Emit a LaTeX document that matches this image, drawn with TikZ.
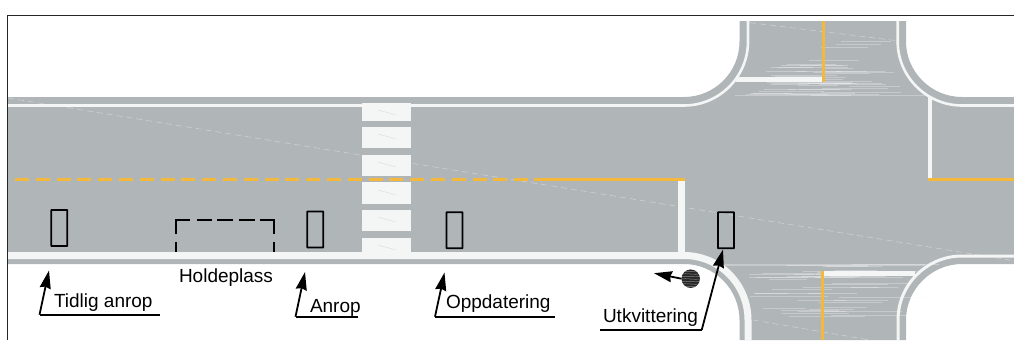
\documentclass[tikz,border=0pt]{standalone}
\usepackage{fontspec}
\setmainfont{Liberation Sans}
\usetikzlibrary{arrows.meta,calc}
\definecolor{roadgray}{HTML}{B0B5B7}
\definecolor{markwhite}{HTML}{F4F5F5}
\definecolor{markyellow}{HTML}{F3B83C}
\definecolor{inkblack}{HTML}{000000}
\tikzset{
  mark white/.style={draw=markwhite,line cap=butt},
  mark yellow/.style={draw=markyellow,line width=3pt},
  faint/.style={draw=markwhite,opacity=.42,line width=.6pt,dash pattern=on 6pt off 4pt},
  sheen/.style={draw=markwhite,opacity=.34,line width=.6pt},
  tile/.style={fill=markwhite,draw=none},
  detector/.style={draw=inkblack,line width=1.8pt,fill=none,rounded corners=.4pt,minimum width=16pt,minimum height=36pt,inner sep=0pt,outer sep=0pt},
  bay/.style={draw=inkblack,line width=1.7pt},
  leader/.style={draw=inkblack,line width=1.8pt},
  pointer/.style={draw=inkblack,line width=1.8pt,-{Stealth[length=18pt,width=11pt,inset=1.5pt]}},
  lab/.style={anchor=base west,inner sep=0pt,outer sep=0pt,text=black,font=\fontsize{19}{21}\selectfont},
}
\begin{document}
\begin{tikzpicture}[x=1pt,y=-1pt]
\useasboundingbox (0,0) rectangle (1014,340);
% road surface
\fill[roadgray] (7.5,97) -- (684,97) .. controls (714.6,97) and (739.5,72.1) .. (739.5,41.5) -- (739.5,21) -- (906,21) -- (906,41.5)
  .. controls (906,72.1) and (931.4,97) .. (962,97) -- (1014,97) -- (1014,264) -- (962,264)
  .. controls (931.4,264) and (906,289.4) .. (906,320) -- (906,340) -- (739.5,340) -- (739.5,320)
  .. controls (739.5,289.4) and (714.6,264) .. (684,264) -- (7.5,264) -- cycle;
% sheen in the side road
\pgfmathsetseed{11}
\foreach \i in {1,...,44}{
  \pgfmathsetmacro{\ya}{40+57*sqrt(rnd)}
  \pgfmathsetmacro{\xa}{745+rnd*110}
  \pgfmathsetmacro{\xb}{\xa+30+rnd*60}
  \draw[sheen] (\xa,\ya) -- (\xb,\ya);
  \pgfmathsetmacro{\yb}{264+60*(1-sqrt(rnd))}
  \pgfmathsetmacro{\xc}{745+rnd*110}
  \pgfmathsetmacro{\xd}{\xc+30+rnd*60}
  \draw[sheen] (\xc,\yb) -- (\xd,\yb);
}
\draw[sheen,line width=1.2pt] (735,95.5) -- (925,95.5);
\draw[sheen,line width=1.2pt] (725,265) -- (925,265);
% faint dashed diagonals
\draw[faint] (8,98) -- (1014,260.7);
\draw[faint] (750,22.7) -- (897,40.7);
\draw[faint] (753,320) -- (870,340);
% kerb lines
\draw[mark white,line width=2.6pt] (7.5,105.5) -- (684,105.5) .. controls (719.3,105.5) and (748,76.8) .. (748,41.5) -- (748,21);
\draw[mark white,line width=2.6pt] (897.7,21) -- (897.7,41.5) .. controls (897.7,76.8) and (926.7,105.5) .. (962,105.5) -- (1014,105.5);
\draw[mark white,line width=7pt] (7.5,255.5) -- (684,255.5) .. controls (719.6,255.5) and (748,284.4) .. (748,320) -- (748,340);
\draw[mark white,line width=3pt] (898,340) -- (898,320) .. controls (898,284.7) and (926.7,256) .. (962,256) -- (1014,256);
% zebra crossing
\fill[tile] (362,103) rectangle (411,120.7);
\fill[tile] (362,126.7) rectangle (411,148);
\fill[tile] (362,154.7) rectangle (411,176);
\fill[tile] (362,182.3) rectangle (411,203.7);
\fill[tile] (362,210) rectangle (411,231.3);
\fill[tile] (362,238) rectangle (411,252);
\foreach \ty in {110,134,162,190,217,245}{
  \draw[draw=roadgray,opacity=.35,line width=.5pt] (378,\ty) -- (396,\ty+5);
}
% stop lines
\draw[mark white,line width=6.5pt] (681.3,180) -- (681.3,253);
\draw[mark white,line width=4.5pt] (930,97) -- (930,179);
\draw[mark white,line width=5pt] (736,79.3) -- (823,79.3);
\draw[mark white,line width=4.5pt] (824,273.3) -- (915,273.3);
% yellow lines
\draw[mark yellow,dash pattern=on 14pt off 6.8pt] (15,179.5) -- (528,179.5);
\draw[mark yellow] (534,179.5) -- (685,179.5);
\draw[mark yellow] (928,179.5) -- (1014,179.5);
\draw[mark yellow] (823.7,21) -- (823.7,82);
\draw[mark yellow] (822.3,271) -- (822.3,340);
% frame
\draw[draw=black!85,line width=1pt] (7.5,340) -- (7.5,15.5) -- (1014,15.5);
% detectors
\node[detector] (d1) at (59.3,228) {};
\node[detector] (d2) at (315.3,229.5) {};
\node[detector] (d3) at (454.5,230.2) {};
\node[detector] (d4) at (726,230.2) {};
% bus stop bay
\draw[bay] (176,252) -- (176,241.5) (176,233.5) -- (176,220) -- (190,220)
  (197,220) -- (212,220) (217,220) -- (233,220) (238.5,220) -- (255,220)
  (260,220) -- (274,220) -- (274,233.5) (274,241.5) -- (274,252);
% labels
\node[lab] (holde) at (179,282.7) {Holdeplass};
\node[lab] (tidlig) at (54,307.3) {Tidlig anrop};
\node[lab] (anrop) at (310,312) {Anrop};
\node[lab] (oppd) at (446,308.5) {Oppdatering};
\node[lab] (utk) at (603,322) {Utkvittering};
% leaders
\coordinate (t1s) at (160,314.7); \coordinate (t1k) at (39.5,314.7); \coordinate (t1e) at (49,270.5);
\coordinate (t2s) at (358,316.7); \coordinate (t2k) at (295.5,316.7); \coordinate (t2e) at (305,272);
\coordinate (t3s) at (555,316.7); \coordinate (t3k) at (435,316.7); \coordinate (t3e) at (444.5,272.5);
\coordinate (t4s) at (600,330); \coordinate (t4k) at (701.7,330); \coordinate (t4e) at (723,249.5);
\draw[leader] (t1s) -- (t1k);
\draw[pointer] (t1k) -- (t1e);
\draw[leader] (t2s) -- (t2k);
\draw[pointer] (t2k) -- (t2e);
\draw[leader] (t3s) -- (t3k);
\draw[pointer] (t3k) -- (t3e);
\draw[leader] (t4s) -- (t4k);
\draw[pointer] (t4k) -- (t4e);
% bus
\node[circle,fill=black!85,minimum size=18.5pt,inner sep=0pt,outer sep=0pt] (ball) at (690.7,278.7) {};
\begin{scope}
\clip (690.7,278.7) circle (9.2pt);
\foreach \wy in {271.5,274,276.5,279,281.5,284,286.5}{
  \draw[draw=white,opacity=.45,line width=.5pt] (681,\wy) .. controls (686,\wy-1) and (694,\wy+1) .. (701,\wy);
}
\end{scope}
\coordinate (bustip) at (654,273.2);
\draw[pointer] (ball.west) -- (bustip);
\end{tikzpicture}
\end{document}
